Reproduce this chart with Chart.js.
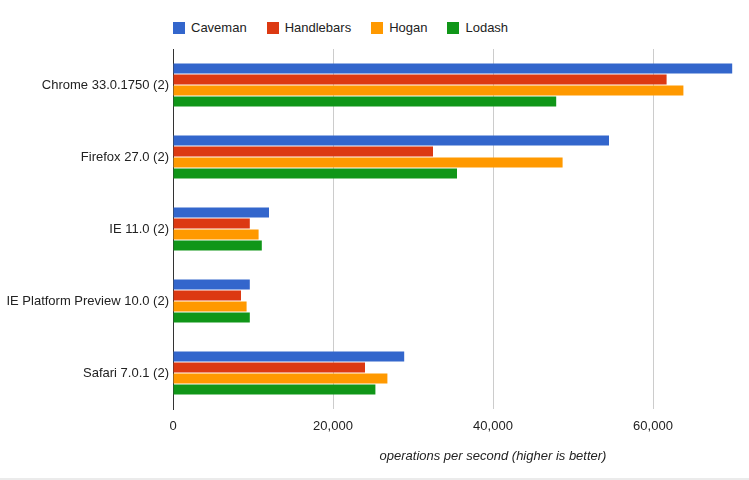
<!DOCTYPE html>
<html>
<head>
<meta charset="utf-8">
<script src="https://cdn.jsdelivr.net/npm/chart.js@4/dist/chart.umd.min.js"></script>
<style>
  html, body { margin: 0; padding: 0; background: #fff; }
  #wrap { position: relative; width: 749px; height: 480px; overflow: hidden; }
  #box { position: absolute; left: 0; top: 0; width: 880px; height: 479px; }
  #bottomLine { position: absolute; left: 0; top: 478px; width: 749px; height: 2px; background: #ebebeb; }
  #legend { position: absolute; left: 173px; top: 20px; display: flex; font: 13px "Liberation Sans", Arial, sans-serif; color: #222; }
  .item { display: flex; align-items: center; margin-right: 20px; }
  .sw { width: 12px; height: 12px; margin-right: 6px; }
</style>
</head>
<body>
<div id="wrap">
  <div id="legend"></div>
  <div id="box"><canvas id="benchChart"></canvas></div>
  <div id="bottomLine"></div>
</div>
<script>
// dados
const browsers = ["Chrome 33.0.1750 (2)", "Firefox 27.0 (2)", "IE 11.0 (2)", "IE Platform Preview 10.0 (2)", "Safari 7.0.1 (2)"];
const seriesNames = ["Caveman", "Handlebars", "Hogan", "Lodash"];
const caveman = [69900, 54500, 12000, 9600, 28900];
const handlebars = [61700, 32500, 9600, 8500, 24000];
const hogan = [63800, 48700, 10700, 9200, 26800];
const lodash = [47900, 35500, 11100, 9600, 25300];
const xTickStep = 20000;
const xMax = 80000;
const axisTitle = "operations per second (higher is better)";

const colors = ["#3366cc", "#dc3912", "#ff9900", "#109618"];
const values = [caveman, handlebars, hogan, lodash];
const font = { family: "'Liberation Sans', Arial, sans-serif", size: 13 };

// legenda em HTML
const legend = document.getElementById("legend");
seriesNames.forEach((name, i) => {
  const item = document.createElement("div");
  item.className = "item";
  item.innerHTML = `<span class="sw" style="background:${colors[i]}"></span><span>${name}</span>`;
  legend.appendChild(item);
});

const ctx = document.getElementById("benchChart");
new Chart(ctx, {
  type: "bar",
  data: {
    labels: browsers,
    datasets: seriesNames.map((name, i) => ({
      label: name,
      data: values[i],
      backgroundColor: colors[i],
      borderWidth: 0,
      categoryPercentage: 0.61,
      barPercentage: 0.91,
    })),
  },
  options: {
    indexAxis: "y",
    responsive: true,
    maintainAspectRatio: false,
    animation: false,
    layout: { padding: { top: 49, right: 67, bottom: 0, left: 0 } },
    plugins: { legend: { display: false }, tooltip: { enabled: false } },
    scales: {
      x: {
        min: 0,
        max: xMax,
        ticks: { stepSize: xTickStep, color: "#222", font: font, padding: 10, maxRotation: 0 },
        grid: { color: "#cccccc", drawTicks: false },
        border: { display: false },
        title: {
          display: true,
          text: axisTitle,
          color: "#222",
          font: { ...font, style: "italic" },
          padding: { top: 4, bottom: 15 },
        },
        afterFit: (s) => { s.height = 70; },
      },
      y: {
        ticks: { color: "#222", font: font, padding: 4 },
        grid: { display: false, drawTicks: false },
        border: { display: true, color: "#333", width: 1 },
        afterFit: (s) => { s.width = 173; },
      },
    },
  },
});
</script>
</body>
</html>
